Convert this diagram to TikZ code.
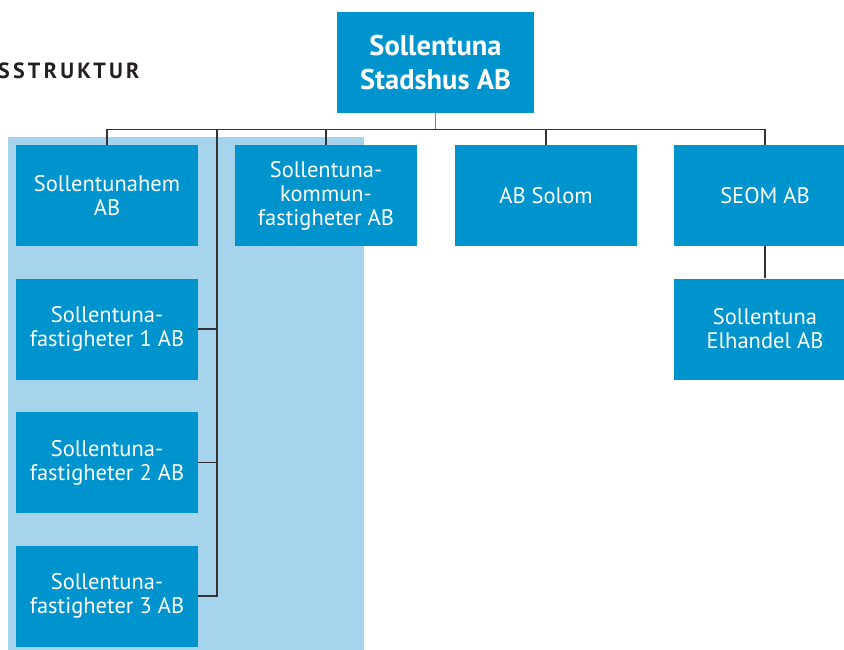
\documentclass[tikz,border=0pt]{standalone}
\usepackage{fontspec}
\setmainfont{PT Sans}
\newfontfamily\rubrikfont[LetterSpace=15]{PT Sans}
\usetikzlibrary{calc}
\definecolor{boxblue}{RGB}{0,148,206}
\definecolor{bgblue}{RGB}{166,212,236}
\definecolor{linegray}{RGB}{51,51,51}
\definecolor{rubrik}{RGB}{35,31,32}

\begin{document}
\begin{tikzpicture}[x=1pt,y=-1pt,
    firma/.style={fill=boxblue,text=white,minimum width=182pt,minimum height=101pt,
      inner sep=0pt,align=center,font=\fontsize{22.5}{24}\selectfont},
    linje/.style={draw=linegray,line width=1.2pt}]
      \useasboundingbox (0,0) rectangle (844,650);
      \fill[bgblue] (8,137.5) rectangle (364,650);
      \node [anchor=east,text=rubrik,font=\rubrikfont\bfseries\fontsize{22}{22}\selectfont] (rub) at (143,71) {SSTRUKTUR};
      \node [firma,minimum width=197pt,font=\bfseries\fontsize{28.5}{34}\selectfont] (stadshus) at (435.5,62.5) {Sollentuna\\Stadshus AB};
      \node [firma] (hem) at (107,195.5) {Sollentunahem\\AB};
      \node [firma] (kommun) at (326,195.5) {Sollentuna-\\kommun-\\fastigheter AB};
      \node [firma] (solom) at (546,195.5) {AB Solom};
      \node [firma] (seom) at (765,195.5) {SEOM AB};
      \node [firma] (elhandel) at (765,329) {Sollentuna\\Elhandel AB};
      \node [firma] (fast1) at (107,329) {Sollentuna-\\fastigheter 1 AB};
      \node [firma] (fast2) at (107,462.5) {Sollentuna-\\fastigheter 2 AB};
      \node [firma] (fast3) at (107,596) {Sollentuna-\\fastigheter 3 AB};
      \coordinate (buss) at (0,129.5);
      \coordinate (stam) at (217,129.5);
      \draw [linje,draw=gray] (stadshus.south) -- (stadshus.south |- buss);
      \draw [linje] (hem.north |- buss) -- (seom.north |- buss);
      \foreach \n in {hem,kommun,solom,seom}
        \draw [linje] (\n.north) -- (\n.north |- buss);
      \draw [linje] (stam) |- (fast3.east);
      \foreach \n in {fast1,fast2}
        \draw [linje] (\n.east) -- (\n.east -| stam);
      \draw [linje] (seom.south) -- (elhandel.north);
\end{tikzpicture}
\end{document}
